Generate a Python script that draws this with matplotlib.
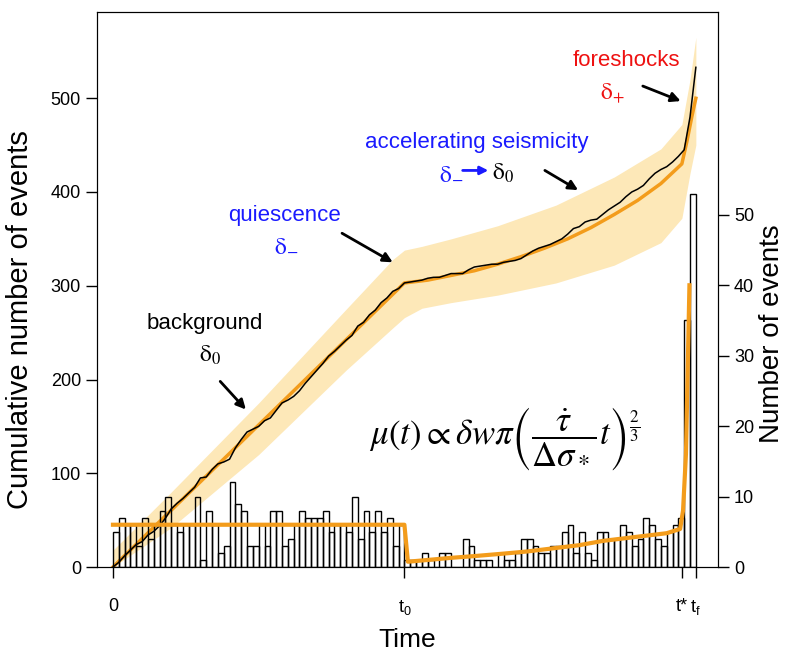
import numpy as np
import matplotlib
matplotlib.use('Agg')
import matplotlib.pyplot as plt

plt.rcParams['font.family'] = ['Liberation Sans', 'DejaVu Sans']

# events per time bin (bin width = 1 time unit, t0 = 50, tf = 100)
counts_background = [5, 7, 6, 6, 3, 7, 4, 6, 8, 10, 6, 5, 6, 6, 10, 1, 8, 6, 2, 3,
                     12, 9, 8, 3, 3, 6, 3, 8, 8, 3, 4, 6, 8, 7, 7, 7, 8, 5, 6, 6,
                     5, 10, 4, 8, 5, 8, 5, 7, 3, 6]
counts_after_t0 = [1, 1, 1, 2, 1, 0, 2, 2, 0, 0, 4, 3, 1, 1, 1, 0, 2, 1, 1, 2,
                   4, 4, 3, 2, 2, 3, 3, 5, 6, 2, 5, 2, 1, 5, 5, 4, 4, 6, 5, 3,
                   4, 7, 6, 4, 3, 5, 6, 7]
counts_foreshocks = [35, 53]

# model rate (orange, right axis)
t_rate = [0, 50, 50.6, 54, 58, 62, 67, 71, 75, 80, 84, 89, 95, 97.3, 97.8, 98.3, 98.9]
rate = [6.0, 6.0, 0.75, 1.0, 1.3, 1.55, 1.9, 2.2, 2.6, 3.1, 3.7, 4.2, 4.8, 5.4, 8, 16, 40]

# model cumulative (orange, left axis) and its band
t_cum = [0, 50, 54, 58, 62, 66, 70, 74, 78, 82, 86, 90, 94, 97.6, 98.5, 99.3, 100]
cum_model = [0, 303, 306, 311, 316, 323, 331, 340, 350, 362, 376, 391, 409, 430, 455, 480, 500]
t_band = [0, 10, 25, 40, 48, 50, 53, 58, 66, 76, 86, 94, 97.6, 99, 100]
band_hi = [18, 80, 175, 275, 328, 338, 342, 350, 364, 386, 416, 446, 472, 520, 565]
band_lo = [0, 42, 120, 210, 255, 266, 276, 282, 290, 303, 322, 346, 372, 420, 450]

tick_pos = [0, 50, 97.6, 100]
tick_lab = ['0', r'$\mathregular{t_0}$', 't*', r'$\mathregular{t_f}$']

orange = '#f39c1b'
band_col = '#fde8b8'
blue = '#1a1aff'
red = '#ee1111'

counts = np.array(counts_background + counts_after_t0 + counts_foreshocks)
left = np.arange(len(counts))
cum_obs = np.concatenate([[0], np.cumsum(counts)])
t_obs = np.arange(len(counts) + 1)

fig = plt.figure(figsize=(7.92, 6.51), dpi=100)
ax = fig.add_axes([97/792, 1 - 567/651, (718-97)/792, (567-12)/651])
ax2 = ax.twinx()

ax.fill_between(t_band, band_lo, band_hi, color=band_col, lw=0, zorder=1)
ax.plot(t_cum, cum_model, color=orange, lw=2.5, zorder=2)
ax.plot(t_obs, cum_obs, color='black', lw=1.1, zorder=3)

ax2.bar(left, counts, width=1, align='edge', fill=False, edgecolor='black', lw=1)
ax2.plot(t_rate, rate, color=orange, lw=3)

ax.set_xlim(-2.74, 103.8)
ax.set_ylim(0, 592)
ax2.set_ylim(0, 78.8)
ax.set_yticks([0, 100, 200, 300, 400, 500])
ax2.set_yticks([0, 10, 20, 30, 40, 50])
ax.set_xticks(tick_pos)
ax.set_xticklabels(tick_lab)

for a in (ax, ax2):
    a.tick_params(labelsize=13, length=8, width=1, direction='out')
ax.tick_params(axis='x', pad=14)
ax.set_xlabel('Time', fontsize=19, labelpad=8)
ax.set_ylabel('Cumulative number of events', fontsize=21)
ax2.set_ylabel('Number of events', fontsize=20)
ax.yaxis.set_label_coords(-0.101, 0.445)
ax2.yaxis.set_label_coords(1.066, 0.42)

arrow = dict(arrowstyle='-|>', color='black', lw=2, mutation_scale=14, shrinkA=0, shrinkB=0)

ax.text(88.0, 540, 'foreshocks', color=red, fontsize=16, ha='center', va='center')
ax.text(85.6, 506, r'$\mathrm{\delta}_{+}$', color=red, fontsize=17, ha='center', va='center', math_fontfamily='stix')
ax.annotate('', xy=(97.4, 497), xytext=(90.9, 513), arrowprops=arrow)

ax.text(62.4, 453, 'accelerating seismicity', color=blue, fontsize=16, ha='center', va='center')
ax.text(58.1, 420, r'$\mathrm{\delta}_{-}$', color=blue, fontsize=17, ha='center', va='center', math_fontfamily='stix')
ax.annotate('', xy=(64.4, 423), xytext=(60.0, 423),
            arrowprops=dict(arrowstyle='-|>', color=blue, lw=2, mutation_scale=12, shrinkA=0, shrinkB=0))
ax.text(67.0, 420, r'$\mathrm{\delta}_{0}$', color='black', fontsize=17, ha='center', va='center', math_fontfamily='stix')
ax.annotate('', xy=(79.8, 402), xytext=(74.1, 423), arrowprops=arrow)

ax.text(29.5, 375, 'quiescence', color=blue, fontsize=16, ha='center', va='center')
ax.text(29.8, 343, r'$\mathrm{\delta}_{-}$', color=blue, fontsize=17, ha='center', va='center', math_fontfamily='stix')
ax.annotate('', xy=(48.0, 325), xytext=(39.3, 356), arrowprops=arrow)

ax.text(15.8, 260, 'background', color='black', fontsize=16, ha='center', va='center')
ax.text(16.6, 226, r'$\mathrm{\delta}_{0}$', color='black', fontsize=17, ha='center', va='center', math_fontfamily='stix')
ax.annotate('', xy=(22.8, 168), xytext=(18.4, 198), arrowprops=arrow)

ax.text(67.2, 137, r'$\mu(t) \propto \delta w\pi \left(\dfrac{\dot{\tau}}{\Delta\sigma_*}t\right)^{\frac{2}{3}}$',
        fontsize=25, ha='center', va='center', math_fontfamily='stix')

fig.savefig('out.png', dpi=100)
